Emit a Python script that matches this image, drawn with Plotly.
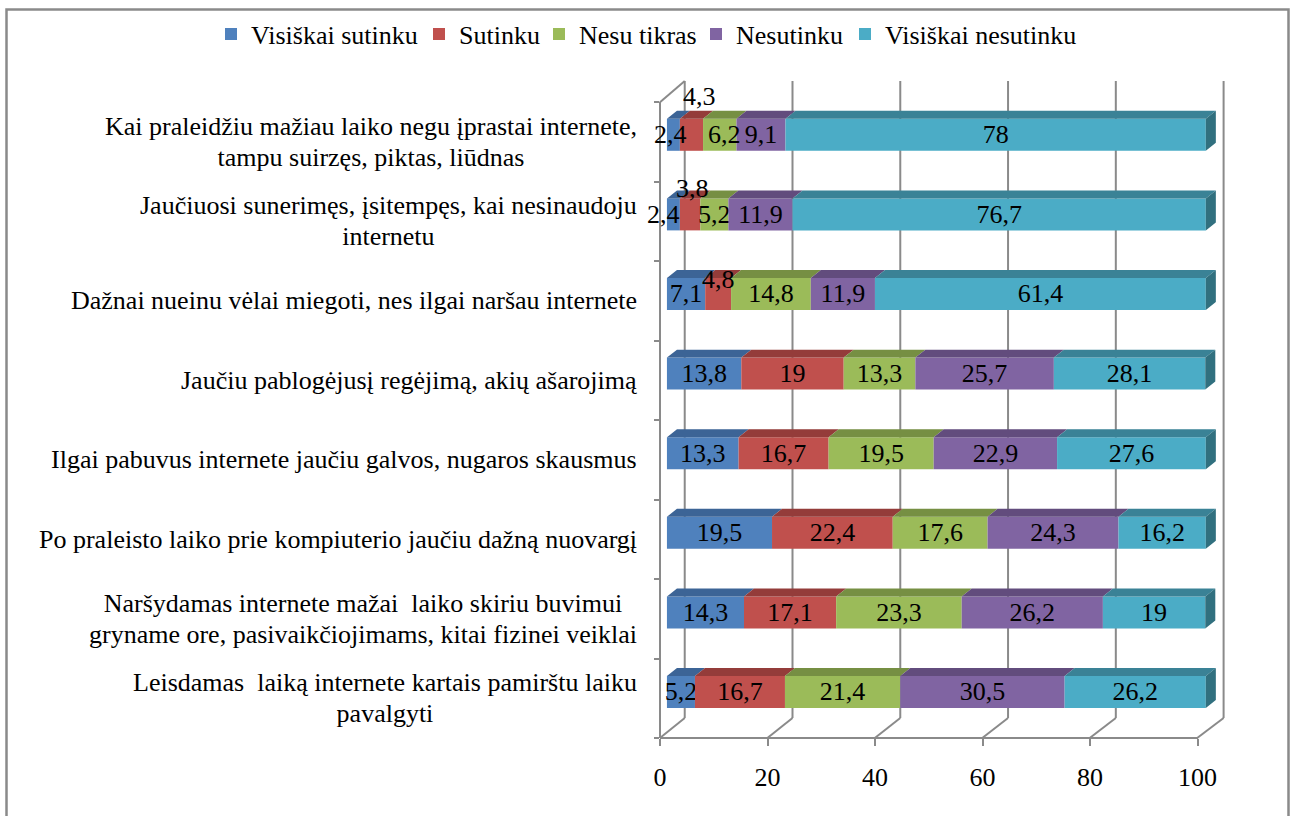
import plotly.graph_objects as go

W = 1295
H = 816

# questions, bottom row first
questions = [
    'Leisdamas  laiką internete kartais pamirštu laiku<br>pavalgyti',
    'Naršydamas internete mažai  laiko skiriu buvimui<br>gryname ore, pasivaikčiojimams, kitai fizinei veiklai',
    'Po praleisto laiko prie kompiuterio jaučiu dažną nuovargį',
    'Ilgai pabuvus internete jaučiu galvos, nugaros skausmus',
    'Jaučiu pablogėjusį regėjimą, akių ašarojimą',
    'Dažnai nueinu vėlai miegoti, nes ilgai naršau internete',
    'Jaučiuosi sunerimęs, įsitempęs, kai nesinaudoju<br>internetu',
    'Kai praleidžiu mažiau laiko negu įprastai internete,<br>tampu suirzęs, piktas, liūdnas',
]
visiskai_sutinku = [5.2, 14.3, 19.5, 13.3, 13.8, 7.1, 2.4, 2.4]
sutinku = [16.7, 17.1, 22.4, 16.7, 19, 4.8, 3.8, 4.3]
nesu_tikras = [21.4, 23.3, 17.6, 19.5, 13.3, 14.8, 5.2, 6.2]
nesutinku = [30.5, 26.2, 24.3, 22.9, 25.7, 11.9, 11.9, 9.1]
visiskai_nesutinku = [26.2, 19, 16.2, 27.6, 28.1, 61.4, 76.7, 78]
x_ticks = [0, 20, 40, 60, 80, 100]

series = [
    ('Visiškai sutinku', visiskai_sutinku, '#4f81bd', '#3c6496', 163),
    ('Sutinku', sutinku, '#c0504d', '#943c3a', 75),
    ('Nesu tikras', nesu_tikras, '#9bbb59', '#768f43', 112),
    ('Nesutinku', nesutinku, '#8064a2', '#624c7d', 104),
    ('Visiškai nesutinku', visiskai_nesutinku, '#4bacc6', '#3a8296', 192),
]
SIDE_COLOR = '#31707f'
GREY = '#8a8a8a'
FONT = 'Liberation Serif'
FS = 26

# 3d look of the Excel chart
BAR_H = 0.402
DX = 1.86
DY = 0.1
rows = list(range(len(questions)))

# labels Excel moved away from the bar centre: (row, series) -> px shift
nudges = {
    (7, 1): (8, 38),
    (6, 1): (2, 26),
    (5, 1): (0, 14),
    (7, 0): (-3, 0),
    (6, 0): (-10, 0),
    (7, 2): (5, 0),
}


def fmt(v):
    return str(v).replace('.', ',')


fig = go.Figure()
annotations = []
cum = [0.0] * len(rows)
for s, (name, vals, col, top_col, leg_w) in enumerate(series):
    labels = ['' if (r, s) in nudges else fmt(vals[r]) for r in rows]
    fig.add_trace(go.Bar(name=name, x=vals, y=rows, orientation='h', base=cum,
                         width=BAR_H, marker_color=col, marker_line_width=0,
                         text=labels, textposition='inside', insidetextanchor='middle',
                         constraintext='none', textangle=0, cliponaxis=False,
                         textfont=dict(family=FONT, size=FS, color='black'),
                         legendwidth=leg_w, hoverinfo='skip'))
    # top faces
    px_, py_ = [], []
    for r in rows:
        a, b = cum[r], cum[r] + vals[r]
        up = r + BAR_H / 2
        px_ += [a, b, b + DX, a + DX, a, None]
        py_ += [up, up, up + DY, up + DY, up, None]
    fig.add_trace(go.Scatter(x=px_, y=py_, mode='lines', fill='toself', fillcolor=top_col,
                             line_width=0, showlegend=False, hoverinfo='skip'))
    for r in rows:
        if (r, s) in nudges:
            dx, dy = nudges[(r, s)]
            annotations.append(dict(x=cum[r] + vals[r] / 2, y=r, xref='x', yref='y',
                                    text=fmt(vals[r]), showarrow=False, xshift=dx, yshift=dy,
                                    font=dict(family=FONT, size=FS, color='black')))
    cum = [cum[r] + vals[r] for r in rows]

# right side of the stack
px_, py_ = [], []
for r in rows:
    lo, up = r - BAR_H / 2, r + BAR_H / 2
    px_ += [cum[r], cum[r] + DX, cum[r] + DX, cum[r], cum[r], None]
    py_ += [lo, lo + DY, up + DY, up, lo, None]
fig.add_trace(go.Scatter(x=px_, y=py_, mode='lines', fill='toself', fillcolor=SIDE_COLOR,
                         line_width=0, showlegend=False, hoverinfo='skip'))

# axis carrying the front edge of the floor and the left wall
fig.add_trace(go.Scatter(x=[None] * len(questions), y=questions, xaxis='x2', yaxis='y2',
                         mode='markers', marker_opacity=0, showlegend=False, hoverinfo='skip'))

# smaller base font on the annotation keeps the tighter line spacing of the original
for q in questions:
    text = '<br>'.join('<span style="font-size:%dpx">%s</span>' % (FS, line) for line in q.split('<br>'))
    annotations.append(dict(x=639 / W, y=q, xref='paper', yref='y2', text=text, showarrow=False,
                            xanchor='right', align='center',
                            font=dict(family=FONT, size=24, color='black')))

# floor and back wall, in bar coordinates
front = lambda v: v * 0.997 - 1.3
back = lambda v: v + 3.3
FLOOR_Y = -0.578
FLOOR_BACK_Y = -0.327
WALL_TOP_Y = 7.676
grid = dict(type='line', xref='x', yref='y', layer='below', line=dict(color=GREY, width=2))
shapes = []
for t in x_ticks:
    shapes.append(dict(grid, x0=front(t), y0=FLOOR_Y, x1=back(t), y1=FLOOR_BACK_Y))
    shapes.append(dict(grid, x0=back(t), y0=FLOOR_BACK_Y, x1=back(t), y1=WALL_TOP_Y))
shapes.append(dict(grid, x0=front(0), y0=7.41, x1=back(0), y1=WALL_TOP_Y))
# picture frame, open at the bottom edge
shapes.append(dict(type='rect', xref='paper', yref='paper', layer='below',
                   x0=6.5 / W, x1=1288.5 / W, y0=-0.05, y1=(H - 9.5) / H,
                   line=dict(color=GREY, width=2.5)))

fig.update_layout(
    width=W, height=H, margin=dict(l=0, r=0, t=0, b=0, autoexpand=False),
    barmode='overlay', paper_bgcolor='white', plot_bgcolor='rgba(0,0,0,0)',
    font=dict(family=FONT, size=FS, color='black'),
    showlegend=True,
    legend=dict(orientation='h', x=211 / W, xanchor='left', y=(H - 34) / H, yanchor='middle',
                font=dict(family=FONT, size=FS), bgcolor='rgba(0,0,0,0)', traceorder='normal'),
    xaxis=dict(domain=[640 / W, 1250 / W], range=[-5, 108.2], visible=False),
    yaxis=dict(domain=[(H - 750) / H, (H - 70) / H], range=[-0.729, 7.814], visible=False),
    xaxis2=dict(domain=[660 / W, 1197.5 / W], range=[0, 100], anchor='free',
                position=(H - 738) / H, tickvals=x_ticks, showgrid=False, zeroline=False,
                showline=True, linecolor=GREY, linewidth=2, ticks='outside', ticklen=7,
                tickcolor=GREY, tickwidth=2, ticklabelstandoff=9,
                tickfont=dict(family=FONT, size=FS, color='black')),
    yaxis2=dict(domain=[(H - 738) / H, (H - 102) / H], anchor='free',
                position=660 / W, type='category', categoryorder='array', categoryarray=questions,
                range=[-0.5, 7.5], tickson='boundaries', showticklabels=False, showgrid=False,
                zeroline=False, showline=True, linecolor=GREY, linewidth=2, ticks='outside',
                ticklen=5, tickcolor=GREY, tickwidth=2),
    annotations=annotations, shapes=shapes,
)

fig.write_html('out.html', config={'displayModeBar': False},
               post_script="document.body.style.margin='0';")
